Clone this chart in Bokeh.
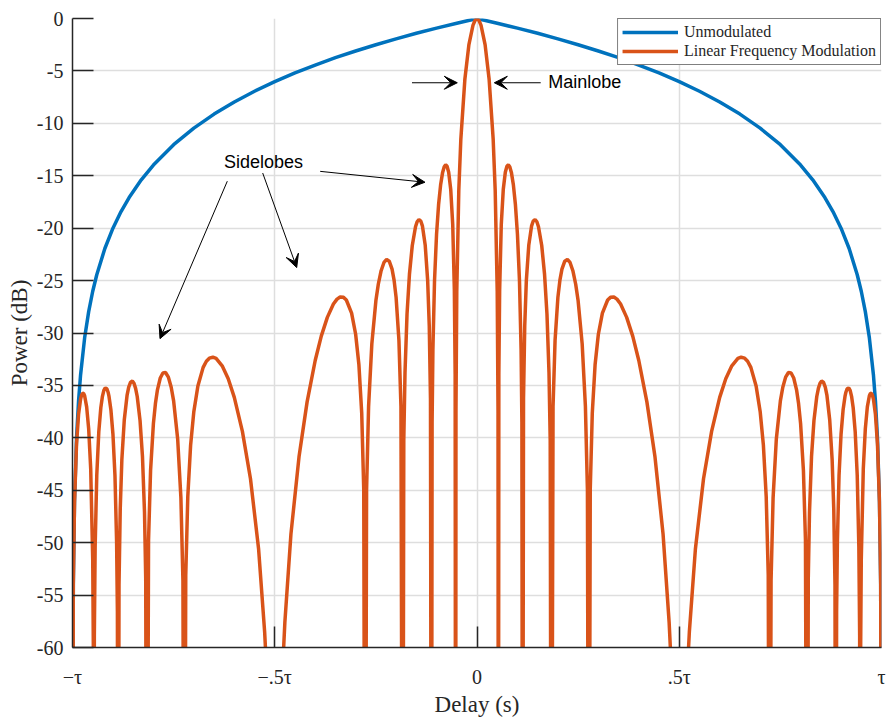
from bokeh.plotting import figure
from bokeh.models import (FixedTicker, Arrow, VeeHead, Label, Legend, LegendItem,
                          Range1d)
from bokeh.embed import file_html
from bokeh.resources import INLINE

# ---------------- data (delay in units of tau, power in dB) ----------------
# LFM zero-Doppler cut, positive-delay half (the picture is symmetric)
lfm_delay_half = [
    0.0, 0.005, 0.01, 0.02, 0.03, 0.04, 0.045, 0.05, 0.052, 0.0528,
    0.054, 0.056, 0.06, 0.065, 0.07, 0.074, 0.0775, 0.081, 0.085, 0.09, 0.095, 0.1, 0.105, 0.109,
    0.111, 0.1127,
    0.115, 0.118, 0.122, 0.128, 0.135, 0.139, 0.1436, 0.148, 0.152, 0.16, 0.167, 0.173, 0.178,
    0.181, 0.1838,
    0.188, 0.193, 0.2, 0.205, 0.21, 0.217, 0.2235, 0.23, 0.237, 0.244, 0.25, 0.26, 0.268, 0.273,
    0.2764,
    0.28, 0.285, 0.292, 0.3, 0.31, 0.323, 0.33, 0.3384, 0.346, 0.355, 0.37, 0.385, 0.4, 0.42,
    0.44, 0.46, 0.475, 0.48, 0.5,
    0.52, 0.525, 0.54, 0.56, 0.58, 0.6, 0.615, 0.63, 0.645, 0.653, 0.6617, 0.669, 0.677, 0.69,
    0.7, 0.708, 0.715, 0.72, 0.7236,
    0.727, 0.732, 0.74, 0.75, 0.756, 0.763, 0.77, 0.7765, 0.783, 0.79, 0.795, 0.8, 0.807, 0.812,
    0.8162,
    0.819, 0.822, 0.827, 0.833, 0.84, 0.844, 0.848, 0.852, 0.8564, 0.861, 0.865, 0.872, 0.878,
    0.882, 0.885, 0.8873,
    0.889, 0.891, 0.895, 0.9, 0.905, 0.91, 0.912, 0.915, 0.919, 0.9225, 0.926, 0.93, 0.935, 0.94,
    0.944, 0.946, 0.9472,
    0.948, 0.95, 0.955, 0.96, 0.965, 0.97, 0.9725, 0.975, 0.9775, 0.98, 0.985, 0.99, 0.995,
    0.998, 1.0,
]
lfm_power_half = [
    0.0, -0.19, -0.66, -2.49, -5.80, -11.54, -16.41, -26.06, -37.4, -100,
    -33.95, -25.87, -19.67, -16.28, -14.67, -14.09, -13.96, -14.14, -14.68, -15.89, -17.77, -20.58,
    -24.99, -31.6, -38.5, -100,
    -36.25, -29.33, -24.97, -21.63, -19.78, -19.32, -19.17, -19.39, -19.86, -21.65, -24.40, -28.21,
    -33.79, -40.25, -100,
    -37.04, -30.70, -26.60, -24.96, -23.91, -23.15, -22.99, -23.27, -24.06, -25.35, -26.93, -31.03,
    -37.0, -45.0, -100,
    -44.9, -37.64, -33.0, -30.12, -28.10, -26.85, -26.60, -26.57, -26.77, -27.24, -28.51, -30.30,
    -32.62, -36.57, -41.81, -49.19, -57.6, -61.6, -100,
    -62.3, -58.5, -50.58, -43.90, -39.38, -36.14, -34.37, -33.13, -32.43, -32.31, -32.40, -32.69,
    -33.28, -35.05, -37.48, -40.69, -45.63, -53.1, -100,
    -53.6, -45.73, -40.11, -36.47, -35.17, -34.21, -33.77, -33.81, -34.29, -35.42, -36.73, -38.64,
    -43.13, -49.75, -100,
    -53.36, -47.07, -41.80, -38.36, -36.06, -35.28, -34.80, -34.59, -34.69, -35.16, -35.92, -38.30,
    -42.11, -46.80, -53.98, -100,
    -56.57, -49.85, -43.61, -39.66, -37.35, -35.99, -35.65, -35.32, -35.24, -35.48, -36.04, -37.13,
    -39.44, -43.57, -50.41, -58.82, -100,
    -62.6, -51.63, -42.95, -39.14, -37.05, -35.99, -35.77, -35.75, -35.92, -36.30, -37.76, -40.57,
    -46.16, -53.99, -100,
]

# Unmodulated pulse, positive-delay half
unmod_delay_half = [0.0, 0.05, 0.1, 0.15, 0.2, 0.25, 0.3, 0.35, 0.4, 0.45, 0.5, 0.55, 0.6, 0.65,
                    0.7, 0.75, 0.8, 0.83, 0.86, 0.88, 0.9, 0.92, 0.94, 0.95, 0.96, 0.97, 0.98,
                    0.985, 0.99, 0.995, 0.998, 1.0]
unmod_power_half = [0.0, -0.45, -0.92, -1.41, -1.94, -2.50, -3.10, -3.74, -4.44, -5.19, -6.02,
                    -6.94, -7.96, -9.12, -10.46, -12.04, -13.98, -15.39, -17.08, -18.42, -20.0,
                    -21.94, -24.44, -26.02, -27.96, -30.46, -33.98, -36.48, -40.0, -46.02,
                    -53.98, -100]

x_ticks = [-1.0, -0.5, 0.0, 0.5, 1.0]
x_tick_labels = ["\u2212\u03c4", "\u2212.5\u03c4", "0", ".5\u03c4", "\u03c4"]
y_ticks = [0, -5, -10, -15, -20, -25, -30, -35, -40, -45, -50, -55, -60]
series_names = ["Unmodulated", "Linear Frequency Modulation"]


def mirror(xs, ys):
    fx = [-v for v in reversed(xs[1:])] + list(xs)
    fy = list(reversed(ys[1:])) + list(ys)
    return fx, fy


lfm_x, lfm_y = mirror(lfm_delay_half, lfm_power_half)
un_x, un_y = mirror(unmod_delay_half, unmod_power_half)

BLUE = "#0072BD"
ORANGE = "#D95319"
DARK = "#262626"
SERIF = "Liberation Serif"
SANS = "Liberation Sans"

p = figure(width=896, height=719, output_backend="svg", toolbar_location=None,
           x_range=Range1d(-1, 1), y_range=Range1d(-60, 0),
           min_border_left=72, min_border_right=15, min_border_top=18, min_border_bottom=62)
p.outline_line_color = None
p.background_fill_color = "white"
p.border_fill_color = "white"

r_un = p.line(un_x, un_y, line_color=BLUE, line_width=3.5)
r_lfm = p.line(lfm_x, lfm_y, line_color=ORANGE, line_width=3.5)

# axes
xa = p.xaxis[0]
xa.ticker = FixedTicker(ticks=x_ticks, minor_ticks=[-0.5, 0.0, 0.5])
xa.major_label_overrides = {t: l for t, l in zip(x_ticks, x_tick_labels)}
xa.major_tick_line_color = None
xa.minor_tick_in = 21
xa.minor_tick_out = 0
xa.minor_tick_line_color = DARK
xa.minor_tick_line_width = 1.5
xa.axis_line_color = DARK
xa.axis_line_width = 1.5
xa.major_label_standoff = 12
xa.major_label_text_font = SERIF
xa.major_label_text_font_size = "20px"
xa.major_label_text_color = DARK
xa.axis_label = "Delay (s)"
xa.axis_label_text_font = SERIF
xa.axis_label_text_font_size = "23px"
xa.axis_label_text_font_style = "normal"
xa.axis_label_text_color = DARK
xa.axis_label_standoff = 1

ya = p.yaxis[0]
ya.ticker = FixedTicker(ticks=y_ticks)
ya.major_label_overrides = {t: str(t) for t in y_ticks}
ya.major_tick_in = 21
ya.major_tick_out = 0
ya.major_tick_line_color = DARK
ya.major_tick_line_width = 1.5
ya.minor_tick_line_color = None
ya.axis_line_color = DARK
ya.axis_line_width = 1.5
ya.major_label_standoff = 9
ya.major_label_text_font = SERIF
ya.major_label_text_font_size = "20px"
ya.major_label_text_color = DARK
ya.axis_label = "Power (dB)"
ya.axis_label_text_font = SERIF
ya.axis_label_text_font_size = "23px"
ya.axis_label_text_font_style = "normal"
ya.axis_label_text_color = DARK
ya.axis_label_standoff = 2

p.xgrid.grid_line_color = "#dedede"
p.xgrid.grid_line_width = 1.5
p.ygrid.grid_line_color = "#dedede"
p.ygrid.grid_line_width = 1.5

# annotations
def arrow(x0, y0, x1, y1):
    p.add_layout(Arrow(x_start=x0, y_start=y0, x_end=x1, y_end=y1,
                       line_color="black", line_width=1,
                       end=VeeHead(size=13, fill_color="black", line_color="black", line_width=1)))

arrow(-0.1607, -6.13, -0.0487, -6.13)
arrow(0.1575, -6.13, 0.0428, -6.13)
p.add_layout(Label(x=0.1763, y=-6.08, text="Mainlobe", text_font=SANS, text_font_size="18px",
                   text_color="black", text_baseline="alphabetic"))

arrow(-0.3877, -14.58, -0.1286, -15.62)
arrow(-0.6173, -15.52, -0.7837, -30.54)
arrow(-0.5298, -14.74, -0.4457, -23.76)
p.add_layout(Label(x=-0.6255, y=-13.70, text="Sidelobes", text_font=SANS, text_font_size="18px",
                   text_color="black", text_baseline="alphabetic"))

legend = Legend(items=[LegendItem(label=series_names[0], renderers=[r_un]),
                       LegendItem(label=series_names[1], renderers=[r_lfm])],
                location="top_right")
legend.border_line_color = "black"
legend.border_line_width = 1.5
legend.background_fill_color = "white"
legend.background_fill_alpha = 1
legend.label_text_font = SERIF
legend.label_text_font_size = "16px"
legend.label_text_color = DARK
legend.glyph_width = 56
legend.glyph_height = 18
legend.label_height = 18
legend.label_standoff = 6
legend.padding = 4
legend.spacing = 1
legend.margin = 0
p.add_layout(legend)

open("out.html", "w").write(file_html(p, INLINE))
